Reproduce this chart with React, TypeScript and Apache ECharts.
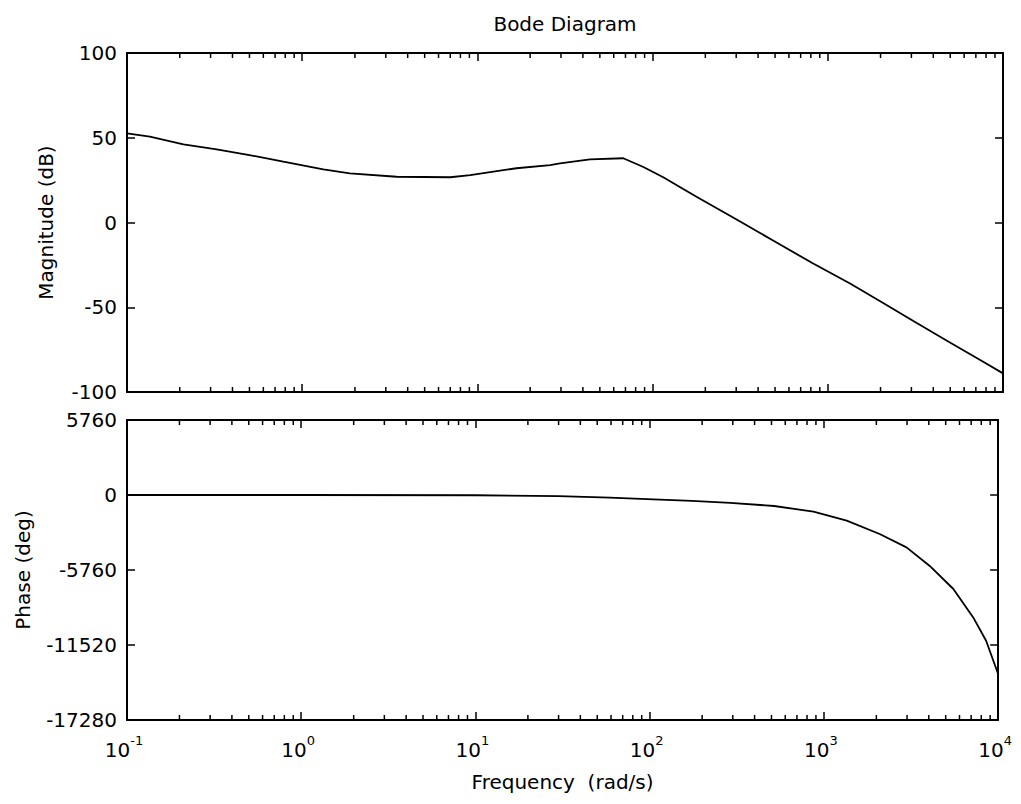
import React, { useEffect, useRef } from "react";
import * as echarts from "echarts";

// Magnitude curve: frequency (rad/s) and magnitude (dB)
const magFreq = [0.1, 0.135, 0.21, 0.325, 0.5, 0.78, 1.32, 1.87, 3.46, 7.0, 9.1, 16.7, 26, 29.6, 43.9, 68, 88, 115, 178, 300, 490, 825, 1340, 2070, 3200, 4980, 7710, 10000];
const magDb = [52.6, 50.6, 46.1, 43.2, 39.8, 35.9, 31.4, 29.0, 27.0, 26.7, 28.0, 32.0, 33.9, 34.9, 37.3, 37.9, 32.9, 26.7, 15.2, 1.9, -10.8, -24.2, -36.0, -47.5, -59.2, -70.8, -82.2, -89.0];

// Phase curve: frequency (rad/s) and phase (deg)
const phaseFreq = [0.1, 1, 10, 30, 59, 105, 175, 290, 518, 871, 1352, 2089, 2979, 4036, 5534, 7194, 8531, 10000];
const phaseDeg = [0, 0, -20, -80, -200, -330, -450, -600, -845, -1283, -1974, -2995, -4024, -5430, -7219, -9400, -11190, -13747];

// Axis settings
const freqMin = 0.1;
const freqMax = 10000;
const magTicks = { min: -100, max: 100, interval: 50 };
const phaseTicks = { min: -17280, max: 5760, interval: 5760 };
const minorTicks = [
  0.2, 0.3, 0.4, 0.5, 0.6, 0.7, 0.8, 0.9,
  2, 3, 4, 5, 6, 7, 8, 9,
  20, 30, 40, 50, 60, 70, 80, 90,
  200, 300, 400, 500, 600, 700, 800, 900,
  2000, 3000, 4000, 5000, 6000, 7000, 8000, 9000,
];

const FONT = "'DejaVu Sans', 'Liberation Sans', Arial, sans-serif";

export default function App() {
  const ref = useRef<HTMLDivElement>(null);

  useEffect(() => {
    if (!ref.current) return;
    document.body.style.margin = "0";
    const chart = echarts.init(ref.current, undefined, { renderer: "svg" });

    const axisLine = { show: true, onZero: false, lineStyle: { color: "#000", width: 2 } };
    const majorTick = (len: number) => ({ show: true, inside: true, length: len, lineStyle: { color: "#000", width: 1.5 } });

    const xAxisBase = (gridIndex: number, position: "top" | "bottom", showLabel: boolean, name?: string) => ({
      type: "log",
      logBase: 10,
      gridIndex,
      position,
      min: freqMin,
      max: freqMax,
      splitNumber: 5,
      axisLine,
      axisTick: majorTick(8),
      splitLine: { show: false },
      minorTick: { show: false },
      name: name || "",
      nameLocation: "middle",
      nameGap: 52,
      nameTextStyle: { color: "#000", fontSize: 20, fontFamily: FONT },
      axisLabel: {
        show: showLabel,
        margin: 14,
        showMinLabel: true,
        showMaxLabel: true,
        formatter: (v: number) => {
          const e = Math.round(Math.log10(v));
          return `{b|10}{s|${e}}`;
        },
        rich: {
          b: { fontSize: 20, fontFamily: FONT, color: "#000", lineHeight: 26, verticalAlign: "bottom" },
          s: { fontSize: 13, fontFamily: FONT, color: "#000", lineHeight: 13, verticalAlign: "top", padding: [0, 6, 0, 0] },
        },
      },
    });

    const yAxisBase = (gridIndex: number, position: "left" | "right", ticks: any, showLabel: boolean, name?: string, nameGap?: number) => ({
      type: "value",
      gridIndex,
      position,
      min: ticks.min,
      max: ticks.max,
      interval: ticks.interval,
      axisLine,
      axisTick: majorTick(8),
      splitLine: { show: false },
      name: name || "",
      nameLocation: "middle",
      nameGap: nameGap || 0,
      nameTextStyle: { color: "#000", fontSize: 20, fontFamily: FONT },
      axisLabel: {
        show: showLabel,
        color: "#000",
        fontSize: 20,
        fontFamily: FONT,
        margin: 10,
        formatter: (v: number) => String(v),
      },
    });

    const minorRender = (ymin: number, ymax: number) => (params: any, api: any) => {
      const x = api.value(0);
      const b = api.coord([x, ymin]);
      const t = api.coord([x, ymax]);
      const style = { stroke: "#000", lineWidth: 1.5 };
      return {
        type: "group",
        children: [
          { type: "line", shape: { x1: b[0], y1: b[1], x2: b[0], y2: b[1] - 5 }, style },
          { type: "line", shape: { x1: t[0], y1: t[1], x2: t[0], y2: t[1] + 5 }, style },
        ],
      };
    };

    const option: any = {
      animation: false,
      backgroundColor: "#fff",
      graphic: [
        {
          type: "text",
          x: 565,
          y: 24,
          style: { text: "Bode Diagram", fill: "#000", font: `20px ${FONT}`, align: "center", verticalAlign: "middle" },
        },
      ],
      grid: [
        { left: 127, top: 53, width: 876, height: 339 },
        { left: 127, top: 420, width: 876, height: 300 },
      ],
      xAxis: [
        xAxisBase(0, "bottom", false),
        xAxisBase(0, "top", false),
        xAxisBase(1, "bottom", true, "Frequency  (rad/s)"),
        xAxisBase(1, "top", false),
      ],
      yAxis: [
        yAxisBase(0, "left", magTicks, true, "Magnitude (dB)", 71),
        yAxisBase(0, "right", magTicks, false),
        yAxisBase(1, "left", phaseTicks, true, "Phase (deg)", 94),
        yAxisBase(1, "right", phaseTicks, false),
      ],
      series: [
        {
          type: "line",
          xAxisIndex: 0,
          yAxisIndex: 0,
          data: magFreq.map((f, i) => [f, magDb[i]]),
          showSymbol: false,
          lineStyle: { color: "#000", width: 1.8 },
        },
        {
          type: "line",
          xAxisIndex: 2,
          yAxisIndex: 2,
          data: phaseFreq.map((f, i) => [f, phaseDeg[i]]),
          showSymbol: false,
          lineStyle: { color: "#000", width: 1.8 },
        },
        {
          type: "custom",
          xAxisIndex: 0,
          yAxisIndex: 0,
          silent: true,
          clip: false,
          data: minorTicks.map((v) => [v, magTicks.min]),
          renderItem: minorRender(magTicks.min, magTicks.max),
        },
        {
          type: "custom",
          xAxisIndex: 2,
          yAxisIndex: 2,
          silent: true,
          clip: false,
          data: minorTicks.map((v) => [v, phaseTicks.min]),
          renderItem: minorRender(phaseTicks.min, phaseTicks.max),
        },
      ],
    };

    chart.setOption(option);
    return () => chart.dispose();
  }, []);

  return <div ref={ref} style={{ position: "fixed", left: 0, top: 0, width: 1021, height: 804 }} />;
}
